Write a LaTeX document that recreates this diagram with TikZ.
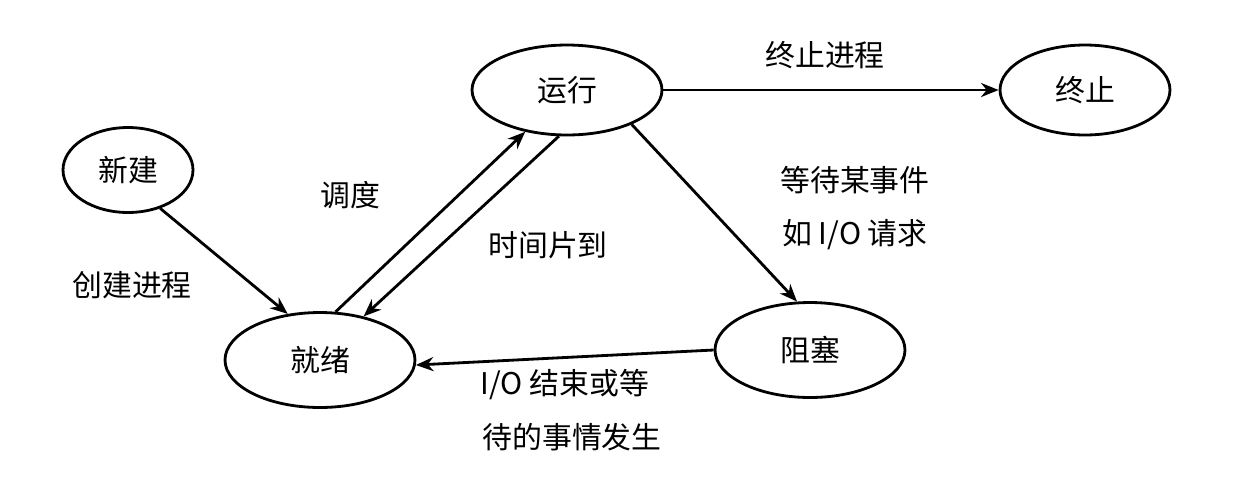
\documentclass[tikz,border=0pt]{standalone}
\usepackage{fontspec}
\newfontfamily\cjk{Noto Sans CJK SC}
\usetikzlibrary{shapes.geometric,arrows.meta}
\begin{document}
\begin{tikzpicture}[x=0.02cm,y=-0.02cm,
  st/.style={ellipse,draw,line width=1.6pt,inner sep=0pt,font=\cjk\fontsize{17}{20}\selectfont},
  ar/.style={line width=1.6pt,-{Stealth[length=10pt,width=8pt]}},
  lb/.style={font=\cjk\fontsize{17}{20}\selectfont,align=left}]
\useasboundingbox (0,0) rectangle (1252,478);
\node[st,minimum width=130\pgflinewidth*0+2.6cm,minimum height=1.7cm] (new) at (128,170) {新建};
\node[st,minimum width=3.8cm,minimum height=1.8cm] (run) at (567,90) {运行};
\node[st,minimum width=3.4cm,minimum height=1.8cm] (end) at (1085,90) {终止};
\node[st,minimum width=3.8cm,minimum height=1.9cm] (ready) at (320,360) {就绪};
\node[st,minimum width=3.8cm,minimum height=1.9cm] (block) at (810,350) {阻塞};
\draw[ar] (new.-50) -- (ready.125);
\draw[ar] (ready.72) -- (run.-135);
\draw[ar] (run.-100) -- (ready.45);
\draw[ar] (run.east) -- (end.west);
\draw[ar] (run.-28) -- (block.105);
\draw[ar] (block.west) -- (ready.-3);
\node[lb] (l1) at (132,285) {创建进程};
\node[lb] (l2) at (350,195) {调度};
\node[lb] (l3) at (548,245) {时间片到};
\node[lb] (l4) at (825,55) {终止进程};
\node[lb] (l5) at (855,180) {等待某事件};
\node[lb] (l6) at (855,235) {如 I/O 请求};
\node[lb] (l7) at (565,385) {I/O 结束或等};
\node[lb] (l8) at (572,437) {待的事情发生};
\end{tikzpicture}
\end{document}
